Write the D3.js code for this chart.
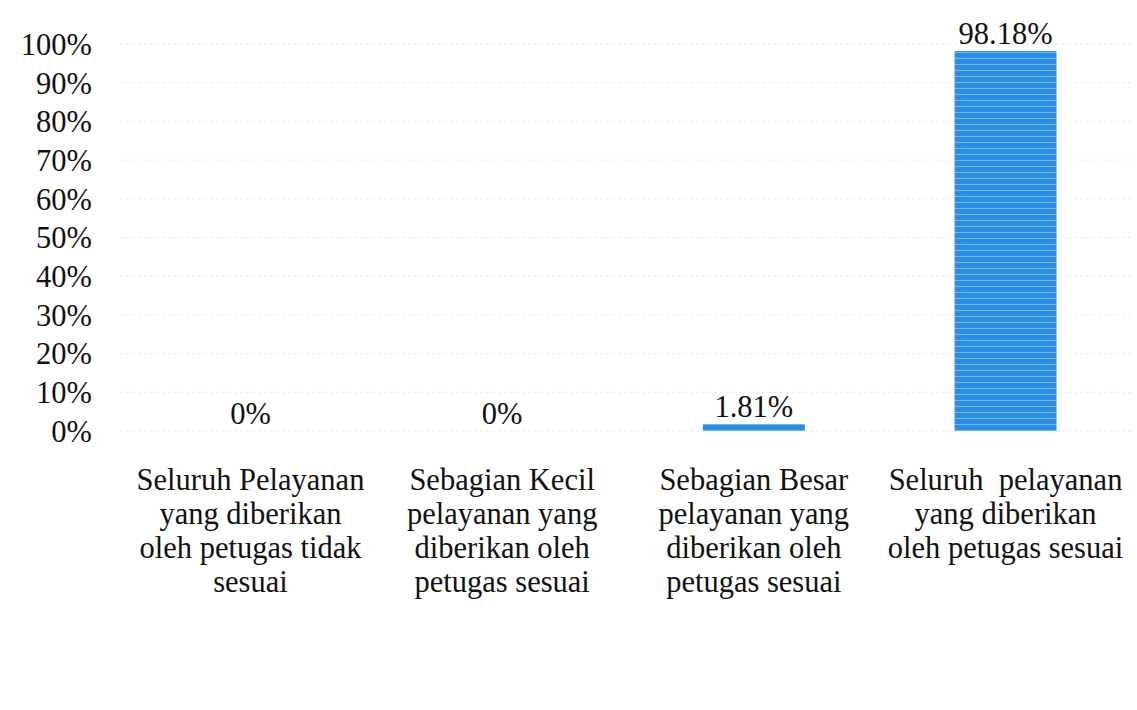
<!DOCTYPE html>
<html>
<head>
<meta charset="utf-8">
<script src="https://cdnjs.cloudflare.com/ajax/libs/d3/7.8.5/d3.min.js"></script>
<style>
  body { margin: 0; background: #fff; }
  text { font-family: "Liberation Serif", "Times New Roman", serif; fill: #111; }
</style>
</head>
<body>
<div id="chart-area"></div>
<script>
let width = 1137,
height = 710;

// data
let categories = [
	["Seluruh Pelayanan", "yang diberikan", "oleh petugas tidak", "sesuai"],
	["Sebagian Kecil", "pelayanan yang", "diberikan oleh", "petugas sesuai"],
	["Sebagian Besar", "pelayanan yang", "diberikan oleh", "petugas sesuai"],
	["Seluruh  pelayanan", "yang diberikan", "oleh petugas sesuai"]
];
let values = [0, 0, 1.81, 98.18];
let valueLabels = ["0%", "0%", "1.81%", "98.18%"];
let ticks = [0, 10, 20, 30, 40, 50, 60, 70, 80, 90, 100];

let svg = d3.select("#chart-area").append("svg")
	.attr("width", width)
	.attr("height", height);

// striped blue fill like the scan
let pat = svg.append("defs").append("pattern")
	.attr("id", "stripes")
	.attr("patternUnits", "userSpaceOnUse")
	.attr("width", 8)
	.attr("height", 6);
pat.append("rect").attr("width", 8).attr("height", 6).attr("fill", "#2b8de2");
pat.append("rect").attr("y", 4).attr("width", 8).attr("height", 1).attr("fill", "#72b6ee");

let x = d3.scaleBand()
	.domain(d3.range(categories.length))
	.range([124, 1132])
	.paddingInner(0.595)
	.paddingOuter(0.3);

let y = d3.scaleLinear()
	.domain([0, 100])
	.range([431, 44]);

// gridlines
svg.append("g")
	.selectAll("line")
	.data(ticks)
	.enter().append("line")
	.attr("x1", 120)
	.attr("x2", 1132)
	.attr("y1", d => y(d))
	.attr("y2", d => y(d))
	.style("stroke", "#ececec")
	.style("stroke-dasharray", "3,3")
	.style("stroke-width", 1);

// y axis labels
let yAxis = d3.axisLeft(y)
	.tickValues(ticks)
	.tickFormat(d => d + "%")
	.tickSize(0)
	.tickPadding(0);

svg.append("g")
	.attr("transform", "translate(92,0)")
	.call(yAxis)
	.call(g => g.select(".domain").remove())
	.selectAll("text")
	.style("font-family", "Liberation Serif")
	.style("font-size", "30.5px")
	.attr("dy", "0.34em")
	.attr("fill", "#111");

// bars
svg.selectAll(".bar")
	.data(values)
	.enter().append("rect")
	.attr("class", "bar")
	.attr("x", (d, i) => x(i))
	.attr("width", x.bandwidth())
	.attr("y", d => y(d))
	.attr("height", d => y(0) - y(d))
	.attr("fill", "url(#stripes)");

// value labels
svg.selectAll(".val")
	.data(values)
	.enter().append("text")
	.attr("class", "val")
	.attr("x", (d, i) => x(i) + x.bandwidth() / 2)
	.attr("y", d => y(d) - 7)
	.attr("text-anchor", "middle")
	.style("font-size", "30.5px")
	.text((d, i) => valueLabels[i]);

// category labels
let cat = svg.selectAll(".cat")
	.data(categories)
	.enter().append("text")
	.attr("class", "cat")
	.attr("text-anchor", "middle")
	.style("font-size", "30.5px");

cat.selectAll("tspan")
	.data((d, i) => d.map(line => ({line: line, i: i})))
	.enter().append("tspan")
	.attr("x", d => x(d.i) + x.bandwidth() / 2)
	.attr("y", (d, j) => 490 + j * 34)
	.style("white-space", "pre")
	.text(d => d.line);
</script>
</body>
</html>
